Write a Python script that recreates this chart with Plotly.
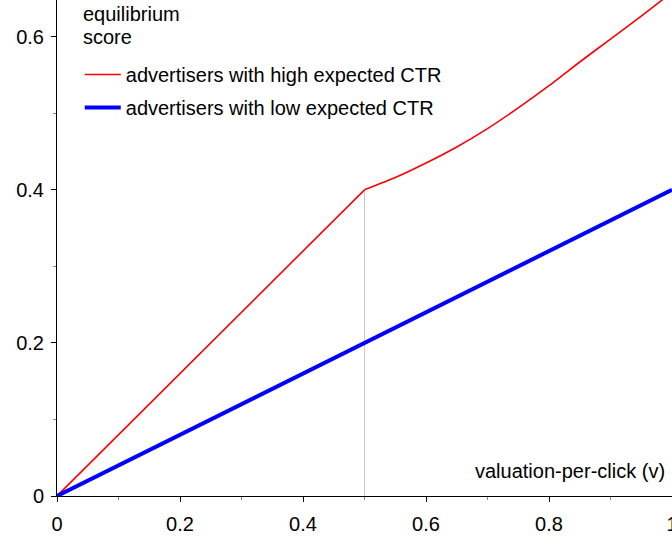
import plotly.graph_objects as go

# data
v_high_lin = [0.0, 0.5]
score_high_lin = [0.0, 0.4]
v_high_curve = [0.5, 0.55, 0.6, 0.65, 0.7, 0.75, 0.8, 0.85, 0.9, 0.95, 1.0]
score_high_curve = [0.400, 0.416, 0.435, 0.456, 0.480, 0.507, 0.536, 0.567, 0.597, 0.627, 0.658]
v_low = [0.0, 1.0]
score_low = [0.0, 0.4]
kink_v = [0.5, 0.5]
kink_score = [0.0, 0.4]

x_ticks = [0, 0.2, 0.4, 0.6, 0.8, 1]
y_ticks = [0, 0.2, 0.4, 0.6]

FONT = "Liberation Sans, Arial, sans-serif"
FS = 20
PLOT_H = 496

fig = go.Figure()
fig.add_trace(go.Scatter(x=kink_v, y=kink_score, mode="lines",
                         line=dict(color="#c8c8c8", width=1), showlegend=False,
                         hoverinfo="skip"))
fig.add_trace(go.Scatter(x=v_high_lin, y=score_high_lin, mode="lines",
                         line=dict(color="#ff0000", width=1.6),
                         name="advertisers with high expected CTR", legendgroup="a"))
fig.add_trace(go.Scatter(x=v_high_curve, y=score_high_curve, mode="lines",
                         line=dict(color="#ff0000", width=1.6, shape="spline", smoothing=0.5),
                         name="advertisers with high expected CTR", legendgroup="a",
                         showlegend=False))
fig.add_trace(go.Scatter(x=v_low, y=score_low, mode="lines",
                         line=dict(color="#0000ff", width=4),
                         name="advertisers with low expected CTR", legendgroup="b"))

fig.update_layout(
    width=672, height=539,
    margin=dict(l=57, r=0, t=0, b=539 - PLOT_H, autoexpand=False),
    plot_bgcolor="white", paper_bgcolor="white",
    font=dict(family=FONT, size=FS, color="black"),
    showlegend=True,
    legend=dict(x=0.037, y=0.889, xanchor="left", yanchor="top",
                bgcolor="rgba(0,0,0,0)", borderwidth=0,
                font=dict(family=FONT, size=FS, color="black"),
                tracegroupgap=4, itemwidth=36),
    xaxis=dict(range=[0, 1.0], tickvals=x_ticks, ticktext=[str(t) for t in x_ticks],
               showgrid=False, zeroline=False, showline=True, linecolor="black",
               linewidth=1, ticks="outside", ticklen=5, tickcolor="black",
               ticklabelstandoff=5, ticklabeloverflow="allow", automargin=False,
               minor=dict(dtick=0.1, ticks="outside", ticklen=3, tickcolor="#888888")),
    yaxis=dict(range=[0, 0.648], tickvals=y_ticks, ticktext=[str(t) for t in y_ticks],
               showgrid=False, zeroline=False, showline=True, linecolor="black",
               linewidth=1, ticks="outside", ticklen=5, tickcolor="black",
               ticklabelstandoff=3, ticklabeloverflow="allow", automargin=False,
               minor=dict(dtick=0.1, ticks="outside", ticklen=3, tickcolor="#888888")),
    annotations=[
        dict(text="equilibrium", xref="paper", yref="paper", x=0.039, y=1 - 14 / PLOT_H,
             xanchor="left", yanchor="middle", showarrow=False,
             font=dict(family=FONT, size=FS)),
        dict(text="score", xref="paper", yref="paper", x=0.039, y=1 - 37 / PLOT_H,
             xanchor="left", yanchor="middle", showarrow=False,
             font=dict(family=FONT, size=FS)),
        dict(text="valuation-per-click (v)", xref="paper", yref="paper", x=0.992,
             y=1 - 471 / PLOT_H, xanchor="right", yanchor="middle", showarrow=False,
             font=dict(family=FONT, size=FS)),
    ],
)

fig.write_html("out.html", config={"displayModeBar": False},
               post_script="document.body.style.margin='0';document.body.style.overflow='hidden';")
